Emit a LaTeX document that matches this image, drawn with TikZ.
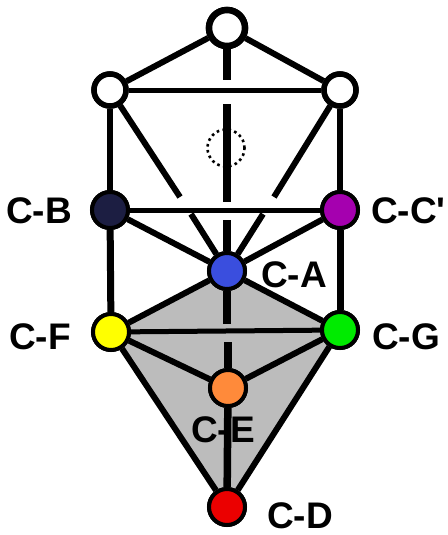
\documentclass[tikz,border=0pt]{standalone}
\usepackage{fontspec}
\newfontfamily\labfont{Liberation Sans}[Ligatures=TeXOff]
\definecolor{cB}{RGB}{28,30,66}
\definecolor{cC}{RGB}{165,0,175}
\definecolor{cA}{RGB}{58,78,222}
\definecolor{cF}{RGB}{255,255,0}
\definecolor{cG}{RGB}{0,235,0}
\definecolor{cE}{RGB}{255,138,58}
\definecolor{cD}{RGB}{235,0,0}
\definecolor{areagray}{RGB}{188,188,188}
\begin{document}
\begin{tikzpicture}[x=1pt,y=-1pt,
  whitenode/.style={circle,draw=black,fill=white,line width=5.5pt,minimum size=32pt,inner sep=0pt},
  topnode/.style={circle,draw=black,fill=white,line width=6.5pt,minimum size=36pt,inner sep=0pt},
  cnode/.style={circle,draw=black,fill=#1,line width=4pt,minimum size=36pt,inner sep=0pt},
  lab/.style={font=\labfont\bfseries\fontsize{37}{42}\selectfont,inner sep=0pt},
  spine/.style={line width=7.5pt},
  pillar/.style={line width=7pt},
  diag/.style={line width=6pt},
  hor/.style={line width=5pt},
  side/.style={line width=5.5pt}]
\useasboundingbox (0,0) rectangle (447,535);
% positions
\coordinate (pT) at (227,28);
\coordinate (pUL) at (110,90);
\coordinate (pUR) at (340,90);
\coordinate (pCB) at (110,210);
\coordinate (pCC) at (340,210);
\coordinate (pCA) at (227,271);
\coordinate (pCF) at (111,332);
\coordinate (pCG) at (340,330);
\coordinate (pCE) at (228,388);
\coordinate (pCD) at (227,507);
% shaded region
\fill[areagray] (pCA) -- (pCG) -- (pCD) -- (pCF) -- cycle;
% nodes (placed first for names, redrawn on top later)
\node[topnode] (T) at (pT) {};
\node[whitenode] (UL) at (pUL) {};
\node[whitenode] (UR) at (pUR) {};
\node[cnode=cB] (CB) at (pCB) {};
\node[cnode=cC] (CC) at (pCC) {};
\node[cnode=cA] (CA) at (pCA) {};
\node[cnode=cF] (CF) at (pCF) {};
\node[cnode=cG] (CG) at (pCG) {};
\node[cnode=cE] (CE) at (pCE) {};
\node[cnode=cD] (CD) at (pCD) {};
% gap coordinates
\coordinate (v1) at (227,80);
\coordinate (v2) at (227,104);
\coordinate (v3) at (227,202);
\coordinate (v4) at (227,220);
\coordinate (v5) at (227,324);
\coordinate (v6) at (228,342);
\coordinate (dl1) at (180,197);
\coordinate (dl2) at (191,214);
\coordinate (dr1) at (274,197);
\coordinate (dr2) at (263,214);
% dotted circle
\node[circle,draw=black,line width=2.6pt,minimum size=37pt,inner sep=0pt,dash pattern=on 2.6pt off 3.4pt] (dot) at (226,148) {};
% labels
\node[lab] (lB) at (39,211) {C-B};
\node[lab,anchor=west] (lC) at (371,211) {C-C'};
\node[lab] (lA) at (294,275) {C-A};
\node[lab] (lF) at (40,337) {C-F};
\node[lab] (lG) at (406,337) {C-G};
\node[lab] (lE) at (223,430) {C-E};
\node[lab] (lD) at (300,516) {C-D};
% connectors
\draw[diag] (T) -- (UL);
\draw[diag] (T) -- (UR);
\draw[hor] (UL) -- (UR);
\draw[side] (UL) -- (CB);
\draw[side] (UR) -- (CC);
\draw[diag] (UL) -- (dl1);
\draw[diag] (dl2) -- (CA);
\draw[diag] (UR) -- (dr1);
\draw[diag] (dr2) -- (CA);
\draw[hor] (CB) -- (CC);
\draw[diag] (CB) -- (CA);
\draw[diag] (CC) -- (CA);
\draw[pillar] (CB) -- (CF);
\draw[pillar] (CC) -- (CG);
\draw[diag] (CA) -- (CF);
\draw[diag] (CA) -- (CG);
\draw[hor] (CF) -- (CG);
\draw[diag] (CF) -- (CE);
\draw[diag] (CG) -- (CE);
\draw[diag] (CF) -- (CD);
\draw[diag] (CG) -- (CD);
\draw[spine] (T) -- (v1);
\draw[spine] (v2) -- (v3);
\draw[spine] (v4) -- (CA);
\draw[spine] (CA) -- (v5);
\draw[spine] (v6) -- (CE);
\draw[spine] (CE) -- (CD);
% redraw nodes on top
\node[topnode] at (pT) {};
\node[whitenode] at (pUL) {};
\node[whitenode] at (pUR) {};
\node[cnode=cB] at (pCB) {};
\node[cnode=cC] at (pCC) {};
\node[cnode=cA] at (pCA) {};
\node[cnode=cF] at (pCF) {};
\node[cnode=cG] at (pCG) {};
\node[cnode=cE] at (pCE) {};
\node[cnode=cD] at (pCD) {};
\end{tikzpicture}
\end{document}
